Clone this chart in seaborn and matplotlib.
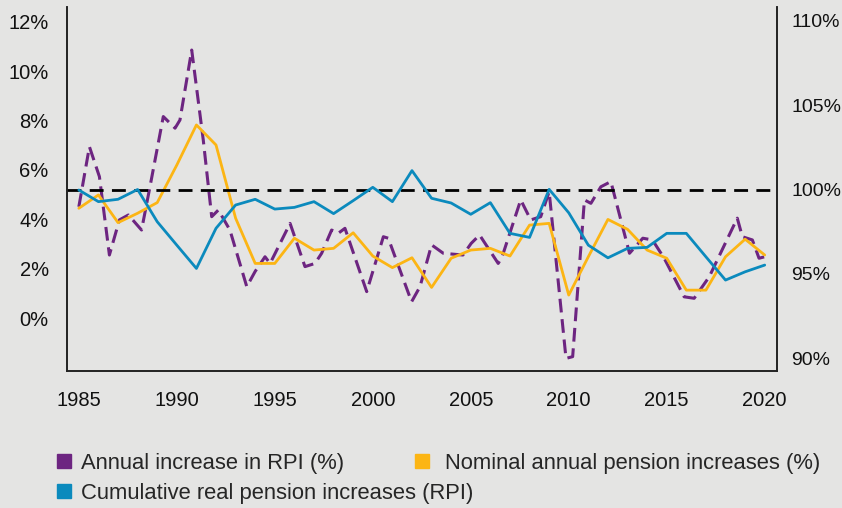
import pandas as pd
import matplotlib.pyplot as plt
import seaborn as sns
from matplotlib.lines import Line2D

# RPI annual increase (%), read at roughly half-year steps
rpi_year = [1985.0, 1985.54, 1986.05, 1986.56, 1987.07, 1987.53, 1988.2, 1988.63, 1989.31,
            1989.91, 1990.16, 1990.76, 1991.35, 1991.78, 1992.12, 1992.71, 1993.57, 1994.0,
            1994.5, 1994.76, 1995.78, 1996.54, 1997.05, 1997.39, 1997.9, 1998.24, 1998.58,
            1999.69, 2000.54, 2000.79, 2001.98, 2002.41, 2003.0, 2003.6, 2004.6, 2005.02,
            2005.45, 2006.4, 2006.6, 2007.55, 2008.06, 2008.57, 2009.0, 2009.86, 2010.2,
            2010.8, 2011.13, 2011.64, 2012.15, 2013.1, 2013.78, 2014.27, 2014.87, 2015.89,
            2016.4, 2017.17, 2018.6, 2018.86, 2019.37, 2019.71, 2020.0]
rpi_value = [4.51, 6.94, 5.73, 2.56, 3.98, 4.18, 3.57, 5.32, 8.16,
             7.69, 8.02, 10.85, 7.21, 4.11, 4.38, 3.57, 1.28, 1.9,
             2.49, 2.22, 3.84, 2.09, 2.22, 2.63, 3.57, 3.44, 3.64,
             1.08, 3.3, 3.24, 0.67, 1.28, 2.97, 2.63, 2.56, 3.03,
             3.37, 2.22, 2.49, 4.79, 3.98, 4.11, 5.12, -1.62, -1.55,
             4.79, 4.65, 5.32, 5.53, 2.63, 3.24, 3.17, 2.43, 0.87,
             0.81, 1.68, 4.05, 3.3, 3.17, 2.43, 2.49]

years = list(range(1985, 2021))
nominal = [4.45, 4.99, 3.87, 4.25, 4.68, 6.2, 7.82, 7.01, 4.05, 2.22,
           2.22, 3.24, 2.76, 2.83, 3.46, 2.52, 2.05, 2.45, 1.25, 2.43,
           2.76, 2.83, 2.52, 3.77, 3.84, 0.94, 2.49, 4.0, 3.6, 2.76,
           2.43, 1.14, 1.14, 2.49, 3.2, 2.56]
cumulative = [99.97, 99.28, 99.42, 100.0, 98.09, 96.7, 95.32, 97.7, 99.08, 99.42,
              98.84, 98.94, 99.28, 98.57, 99.34, 100.13, 99.28, 101.12, 99.48, 99.2,
              98.53, 99.22, 97.4, 97.16, 100.01, 98.62, 96.7, 95.95, 96.51, 96.57,
              97.4, 97.4, 96.01, 94.63, 95.12, 95.52]

left_ticks = [0, 2, 4, 6, 8, 10, 12]
right_ticks = [90, 95, 100, 105, 110]
x_ticks = [1985, 1990, 1995, 2000, 2005, 2010, 2015, 2020]

labels = ["Annual increase in RPI (%)",
          "Cumulative real pension increases (RPI)",
          "Nominal annual pension increases (%)"]

purple = "#6d2581"
orange = "#fcb514"
teal = "#0b8abd"
bg = "#e4e4e3"

sns.set_theme(style="white", rc={"figure.facecolor": bg, "axes.facecolor": bg})
plt.rcParams['font.family'] = ['Liberation Sans', 'DejaVu Sans']

fig = plt.figure(figsize=(8.42, 5.08), dpi=100)
ax = fig.add_axes([0.0792, 0.2697, 0.8432, 0.7165])
ax2 = ax.twinx()

sns.lineplot(x=rpi_year, y=rpi_value, ax=ax, color=purple, lw=2.2,
             dashes=False, linestyle=(0, (4.5, 2.2)))
sns.lineplot(x=years, y=nominal, ax=ax, color=orange, lw=2.0)
sns.lineplot(x=years, y=cumulative, ax=ax2, color=teal, lw=2.0)
ax2.axhline(100, color="black", lw=2.0, linestyle=(0, (5, 3)), zorder=0)

ax.set_xlim(1984.38, 2020.61)
ax.set_ylim(-2.13, 12.59)
ax2.set_ylim(89.24, 110.82)

ax.set_xticks(x_ticks)
ax.set_yticks(left_ticks)
ax.set_yticklabels([f"{t}%" for t in left_ticks])
ax2.set_yticks(right_ticks)
ax2.set_yticklabels([f"{t}%" for t in right_ticks])

for a in (ax, ax2):
    a.spines['top'].set_visible(False)
    for s in ('left', 'right', 'bottom'):
        a.spines[s].set_color("#222222")
        a.spines[s].set_linewidth(1.2)
ax.tick_params(axis='y', length=0, pad=13, labelsize=14.5, colors="#111111")
ax.tick_params(axis='x', length=0, pad=14.5, labelsize=14.5, colors="#111111")
ax2.tick_params(axis='y', length=0, pad=10.5, labelsize=14, colors="#111111")

sq = [Line2D([], [], marker='s', linestyle='none', markersize=9.5, color=c)
      for c in (purple, teal, orange)]
fig.legend(sq[:2], labels[:2], loc='upper left', bbox_to_anchor=(0.0549, 0.126),
           frameon=False, fontsize=15.8, handletextpad=0.39, handlelength=0.8,
           labelspacing=0.4, borderaxespad=0)
fig.legend(sq[2:], labels[2:], loc='upper left', bbox_to_anchor=(0.480, 0.126),
           frameon=False, fontsize=15.8, handletextpad=0.66, handlelength=0.8,
           borderaxespad=0)

fig.savefig("out.png", dpi=100, facecolor=bg)
